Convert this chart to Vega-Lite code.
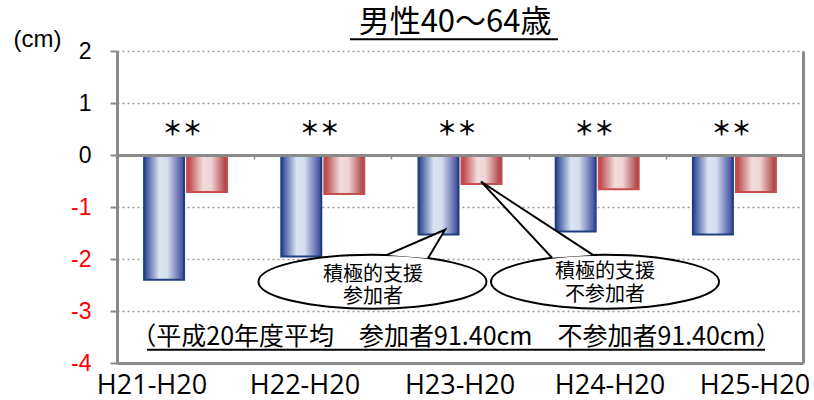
{
  "$schema": "https://vega.github.io/schema/vega-lite/v6.json",
  "autosize": "none",
  "width": 686,
  "height": 312,
  "padding": {"left": 117, "top": 51, "right": 11, "bottom": 37},
  "background": "white",
  "config": {"view": {"stroke": null}},
  "datasets": {
    "bars": [
      {"period": "H21-H20", "group": "参加者", "value": -2.40},
      {"period": "H21-H20", "group": "不参加者", "value": -0.71},
      {"period": "H22-H20", "group": "参加者", "value": -1.95},
      {"period": "H22-H20", "group": "不参加者", "value": -0.75},
      {"period": "H23-H20", "group": "参加者", "value": -1.53},
      {"period": "H23-H20", "group": "不参加者", "value": -0.56},
      {"period": "H24-H20", "group": "参加者", "value": -1.47},
      {"period": "H24-H20", "group": "不参加者", "value": -0.66},
      {"period": "H25-H20", "group": "参加者", "value": -1.53},
      {"period": "H25-H20", "group": "不参加者", "value": -0.71}
    ],
    "sig": [
      {"period": "H21-H20", "mark": "＊＊", "y": 0.49},
      {"period": "H22-H20", "mark": "＊＊", "y": 0.49},
      {"period": "H23-H20", "mark": "＊＊", "y": 0.49},
      {"period": "H24-H20", "mark": "＊＊", "y": 0.49},
      {"period": "H25-H20", "mark": "＊＊", "y": 0.49}
    ],
    "periodLabels": [
      {"period": "H21-H20", "xq": 0.255, "yq": -4.437},
      {"period": "H22-H20", "xq": 1.370, "yq": -4.437},
      {"period": "H23-H20", "xq": 2.500, "yq": -4.437},
      {"period": "H24-H20", "xq": 3.593, "yq": -4.437},
      {"period": "H25-H20", "xq": 4.650, "yq": -4.437}
    ],
    "heading": [
      {"xq": 2.464, "yq": 2.535, "text": "男性40～64歳"}
    ],
    "bubbles": [
      {"bubble": "参加者", "xq": 1.862, "yq": -2.437},
      {"bubble": "不参加者", "xq": 3.557, "yq": -2.437}
    ],
    "tails": [
      {"bubble": "参加者", "step": 1, "xq": 1.968, "yq": -1.921},
      {"bubble": "参加者", "step": 2, "xq": 2.391, "yq": -1.437},
      {"bubble": "参加者", "step": 3, "xq": 2.267, "yq": -1.985},
      {"bubble": "不参加者", "step": 1, "xq": 3.171, "yq": -1.977},
      {"bubble": "不参加者", "step": 2, "xq": 2.653, "yq": -0.513},
      {"bubble": "不参加者", "step": 3, "xq": 3.469, "yq": -1.921}
    ],
    "bubbleText": [
      {"xq": 1.866, "yq": -2.302, "text": "積極的支援"},
      {"xq": 1.866, "yq": -2.725, "text": "参加者"},
      {"xq": 3.557, "yq": -2.244, "text": "積極的支援"},
      {"xq": 3.557, "yq": -2.686, "text": "不参加者"}
    ],
    "note": [
      {"xq": 2.471, "yq": -3.494, "text": "（平成20年度平均　参加者91.40cm　不参加者91.40cm）"}
    ],
    "underlines": [
      {"x1": 0.219, "x2": 4.723, "y": -3.744},
      {"x1": 1.698, "x2": 3.214, "y": 2.227}
    ]
  },
  "resolve": {
    "scale": {"x": "independent"},
    "axis": {"x": "independent", "y": "independent"}
  },
  "layer": [
    {
      "data": {"name": "bars"},
      "transform": [{"filter": "datum.group === '参加者'"}],
      "mark": {
        "type": "bar",
        "fill": {
          "gradient": "linear", "x1": 0, "y1": 0, "x2": 1, "y2": 0,
          "stops": [
            {"offset": 0, "color": "#24408E"},
            {"offset": 0.38, "color": "#DAE3F1"},
            {"offset": 0.58, "color": "#D5DEEE"},
            {"offset": 1, "color": "#3A449A"}
          ]
        },
        "stroke": "#1F3F80",
        "strokeWidth": 2
      },
      "encoding": {
        "x": {
          "field": "period", "type": "nominal", "sort": null,
          "scale": {"paddingInner": 0, "paddingOuter": 0},
          "axis": {
            "orient": "bottom", "title": null, "labels": false, "ticks": false,
            "domainColor": "#8A8A8A", "domainWidth": 3, "zindex": 1
          }
        },
        "xOffset": {
          "field": "group", "type": "nominal",
          "scale": {"domain": ["参加者", "不参加者"], "paddingInner": 0.07, "paddingOuter": 0.63}
        },
        "y": {
          "field": "value", "type": "quantitative",
          "scale": {"domain": [-4, 2], "nice": false},
          "axis": {
            "orient": "left",
            "values": [2, 1, 0, -1, -2, -3, -4],
            "labelExpr": "datum.value < 0 ? '-' + abs(datum.value) : '' + datum.value",
            "title": "(cm)",
            "titleAngle": 0, "titleAlign": "center", "titleBaseline": "middle",
            "titleX": -80, "titleY": -12,
            "titleFont": "Liberation Sans", "titleFontSize": 24, "titleFontWeight": "normal", "titleColor": "black",
            "labelFont": "Liberation Sans", "labelFontSize": 23, "labelPadding": 19,
            "labelColor": {"condition": {"test": "datum.value < 0", "value": "#FF0000"}, "value": "black"},
            "domainColor": "#8A8A8A", "domainWidth": 3,
            "tickColor": "#8A8A8A", "tickSize": 7, "tickWidth": 2,
            "grid": true, "gridColor": "#9A9A9A", "gridDash": [2, 3], "gridWidth": 1.5
          }
        }
      }
    },
    {
      "data": {"name": "bars"},
      "transform": [{"filter": "datum.group === '不参加者'"}],
      "mark": {
        "type": "bar",
        "fill": {
          "gradient": "linear", "x1": 0, "y1": 0, "x2": 1, "y2": 0,
          "stops": [
            {"offset": 0, "color": "#B8393C"},
            {"offset": 0.4, "color": "#F2DCDC"},
            {"offset": 0.6, "color": "#EFD5D5"},
            {"offset": 1, "color": "#A9363A"}
          ]
        },
        "stroke": "#C5504F",
        "strokeWidth": 2
      },
      "encoding": {
        "x": {
          "field": "period", "type": "nominal", "sort": null,
          "scale": {"paddingInner": 0, "paddingOuter": 0},
          "axis": null
        },
        "xOffset": {
          "field": "group", "type": "nominal",
          "scale": {"domain": ["参加者", "不参加者"], "paddingInner": 0.07, "paddingOuter": 0.63}
        },
        "y": {
          "field": "value", "type": "quantitative",
          "scale": {"domain": [-4, 2], "nice": false},
          "axis": null
        }
      }
    },
    {
      "data": {"name": "sig"},
      "mark": {
        "type": "text", "font": "Noto Sans CJK JP", "fontSize": 20, "fontWeight": "bold",
        "color": "black", "baseline": "middle", "align": "center", "dx": -3
      },
      "encoding": {
        "x": {
          "field": "period", "type": "nominal", "sort": null,
          "scale": {"paddingInner": 0, "paddingOuter": 0},
          "axis": {
            "orient": "top", "offset": -104, "title": null, "labels": false,
            "domainColor": "#8A8A8A", "domainWidth": 3,
            "ticks": true, "tickBand": "extent", "tickSize": -4, "tickColor": "#8A8A8A", "tickWidth": 1.5,
            "grid": false, "zindex": 1
          }
        },
        "y": {
          "field": "y", "type": "quantitative",
          "scale": {"domain": [-4, 2], "nice": false},
          "axis": {
            "orient": "right", "title": null, "labels": false, "ticks": false, "grid": false,
            "domainColor": "#8A8A8A", "domainWidth": 3
          }
        },
        "text": {"field": "mark"}
      }
    },
    {
      "data": {"name": "periodLabels"},
      "mark": {"type": "text", "font": "Open Sans", "fontSize": 27, "color": "black", "baseline": "middle", "align": "center"},
      "encoding": {
        "x": {"field": "xq", "type": "quantitative", "scale": {"domain": [0, 5], "nice": false, "zero": false}, "axis": null},
        "y": {"field": "yq", "type": "quantitative", "scale": {"domain": [-4, 2], "nice": false}, "axis": null},
        "text": {"field": "period"}
      }
    },
    {
      "data": {"name": "heading"},
      "mark": {"type": "text", "font": "Noto Sans CJK JP", "fontSize": 31, "color": "black", "baseline": "middle", "align": "center"},
      "encoding": {
        "x": {"field": "xq", "type": "quantitative", "scale": {"domain": [0, 5], "nice": false, "zero": false}, "axis": null},
        "y": {"field": "yq", "type": "quantitative", "scale": {"domain": [-4, 2], "nice": false}, "axis": null},
        "text": {"field": "text"}
      }
    },
    {
      "data": {"name": "bubbles"},
      "mark": {
        "type": "point",
        "shape": "M -1 0 A 1 0.237 0 1 1 1 0 A 1 0.237 0 1 1 -1 0 Z",
        "size": 51984,
        "filled": true, "fill": "white", "stroke": "black", "strokeWidth": 2,
        "opacity": 1, "fillOpacity": 1
      },
      "encoding": {
        "x": {"field": "xq", "type": "quantitative", "scale": {"domain": [0, 5], "nice": false, "zero": false}, "axis": null},
        "y": {"field": "yq", "type": "quantitative", "scale": {"domain": [-4, 2], "nice": false}, "axis": null}
      }
    },
    {
      "data": {"name": "tails"},
      "mark": {"type": "line", "stroke": "black", "strokeWidth": 2, "fill": "white", "strokeJoin": "miter"},
      "encoding": {
        "x": {"field": "xq", "type": "quantitative", "scale": {"domain": [0, 5], "nice": false, "zero": false}, "axis": null},
        "y": {"field": "yq", "type": "quantitative", "scale": {"domain": [-4, 2], "nice": false}, "axis": null},
        "detail": {"field": "bubble"},
        "order": {"field": "step", "type": "quantitative"}
      }
    },
    {
      "data": {"name": "bubbleText"},
      "mark": {"type": "text", "font": "Noto Sans CJK JP", "fontSize": 20, "color": "black", "baseline": "middle", "align": "center"},
      "encoding": {
        "x": {"field": "xq", "type": "quantitative", "scale": {"domain": [0, 5], "nice": false, "zero": false}, "axis": null},
        "y": {"field": "yq", "type": "quantitative", "scale": {"domain": [-4, 2], "nice": false}, "axis": null},
        "text": {"field": "text"}
      }
    },
    {
      "data": {"name": "note"},
      "mark": {"type": "text", "font": "Noto Sans CJK JP", "fontSize": 25, "color": "black", "baseline": "middle", "align": "center"},
      "encoding": {
        "x": {"field": "xq", "type": "quantitative", "scale": {"domain": [0, 5], "nice": false, "zero": false}, "axis": null},
        "y": {"field": "yq", "type": "quantitative", "scale": {"domain": [-4, 2], "nice": false}, "axis": null},
        "text": {"field": "text"}
      }
    },
    {
      "data": {"name": "underlines"},
      "mark": {"type": "rule", "color": "black", "strokeWidth": 2},
      "encoding": {
        "x": {"field": "x1", "type": "quantitative", "scale": {"domain": [0, 5], "nice": false, "zero": false}, "axis": null},
        "x2": {"field": "x2"},
        "y": {"field": "y", "type": "quantitative", "scale": {"domain": [-4, 2], "nice": false}, "axis": null}
      }
    }
  ]
}
